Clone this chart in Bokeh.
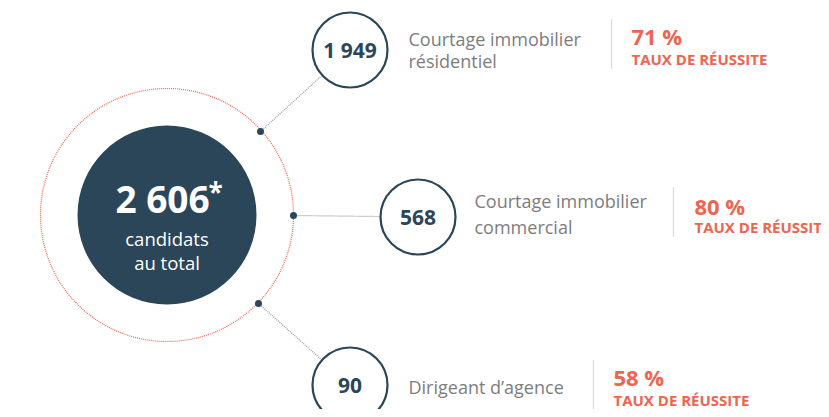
import math
from bokeh.plotting import figure
from bokeh.models import Range1d
from bokeh.core.properties import value
from bokeh.embed import file_html
from bokeh.resources import INLINE

# ---- data ----
total_label = "2 606"
total_sub = ["candidats", "au total"]
counts = ["1 949", "568", "90"]
labels = [["Courtage immobilier", "résidentiel"],
          ["Courtage immobilier", "commercial"],
          ["Dirigeant d\u2019agence"]]
rates = ["71 %", "80 %", "58 %"]
rate_caption = "TAUX DE RÉUSSITE"

# ---- layout (image px coords) ----
W, H = 821, 409
NAVY = "#2b4659"
RED = "#f0644f"
GRAY = "#7d7d7d"
FONT = value("Open Sans")


def mid(baseline, size):
    """y for a 'middle'-anchored text whose alphabetic baseline is given"""
    return baseline - 0.38 * size


cx, cy = 166.5, 214.5
R_OUT, R_IN = 126.5, 89.5
small_centers = [(349.5, 49.5), (417.5, 216.5), (349.5, 384.5)]
r_small = 37.5
dots = [(260, 131), (293, 215), (258, 303)]
label_x = [408, 474, 408]
label_base = [[45, 67.5], [207, 233], [393]]
sep_x = [611, 673, 593]
sep_y = [(19, 69), (187, 237), (360, 410)]
rate_x = [631, 694, 613]
rate_base = [44, 214, 385]
cap_base = [64, 232, 405]

p = figure(width=W, height=H, output_backend="svg", toolbar_location=None,
           x_range=Range1d(0, W), y_range=Range1d(H, 0),
           min_border=0, outline_line_color=None)
p.axis.visible = False
p.grid.visible = False

# outer dotted circle
p.circle(x=[cx], y=[cy], radius=R_OUT, fill_color=None, line_color=RED,
         line_width=1.2, line_dash="1 1")
# inner filled circle
p.circle(x=[cx], y=[cy], radius=R_IN, fill_color=NAVY, line_color=None)

# connectors
xs, ys = [], []
for (dx, dy), (sx, sy) in zip(dots, small_centers):
    vx, vy = sx - dx, sy - dy
    L = math.hypot(vx, vy)
    ex, ey = sx - r_small * vx / L, sy - r_small * vy / L
    xs.append([dx, ex]); ys.append([dy, ey])
p.multi_line(xs=xs, ys=ys, line_color="#9a9a9a", line_width=1.2, line_dash="1 1")
p.scatter(x=[d[0] for d in dots], y=[d[1] for d in dots], size=7,
          fill_color=NAVY, line_color=None)

# small circles
p.circle(x=[c[0] for c in small_centers], y=[c[1] for c in small_centers],
         radius=r_small, fill_color="white", line_color=NAVY, line_width=2.2)
p.text(x=[c[0] for c in small_centers], y=[c[1] for c in small_centers],
       text=counts, text_font=FONT, text_font_style="bold",
       text_font_size="21px", text_color=NAVY, text_align="center",
       text_baseline="middle")

# centre text
p.text(x=[cx - 4.5], y=[mid(212, 37)], text=[total_label], text_font=FONT,
       text_font_style="bold", text_font_size="37px", text_color="white",
       text_align="center", text_baseline="middle")
p.text(x=[208], y=[191], text=["*"], text_font=FONT, text_font_style="bold",
       text_font_size="26px", text_color="white", text_align="left",
       text_baseline="middle")
p.text(x=[cx, cx], y=[mid(245, 18.5), mid(269, 18.5)], text=total_sub,
       text_font=FONT, text_font_size="18.5px", text_color="white",
       text_align="center", text_baseline="middle")

# labels
lx, ly, lt = [], [], []
for i, lines in enumerate(labels):
    for j, t in enumerate(lines):
        lx.append(label_x[i]); ly.append(mid(label_base[i][j], 18)); lt.append(t)
p.text(x=lx, y=ly, text=lt, text_font=FONT, text_font_size="18px",
       text_color=GRAY, text_align="left", text_baseline="middle")

# separators
p.multi_line(xs=[[x, x] for x in sep_x], ys=[list(s) for s in sep_y],
             line_color="#b5b5b5", line_width=1.2, line_dash="1 1")

# rates
p.text(x=rate_x, y=[mid(b, 22) for b in rate_base], text=rates, text_font=FONT,
       text_font_style="bold", text_font_size="22px", text_color=RED,
       text_align="left", text_baseline="middle")
p.text(x=rate_x, y=[mid(b, 15) for b in cap_base], text=[rate_caption] * 3,
       text_font=FONT, text_font_style="bold", text_font_size="15px",
       text_color=RED, text_align="left", text_baseline="middle")

open("out.html", "w").write(file_html(p, INLINE))
